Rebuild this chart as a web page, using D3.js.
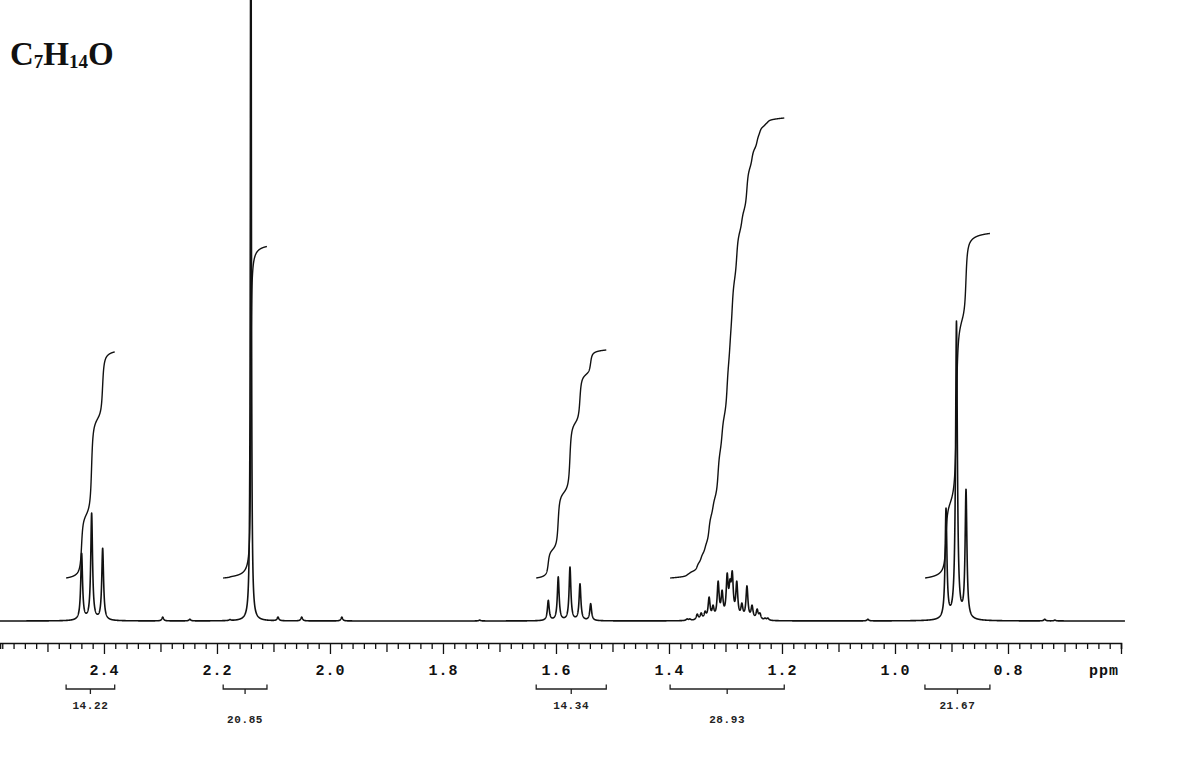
<!DOCTYPE html>
<html><head><meta charset="utf-8">
<script src="https://cdn.jsdelivr.net/npm/d3@7"></script>
<style>html,body{margin:0;padding:0;background:#fff;overflow:hidden}</style>
</head><body>
<svg id="chart" width="1200" height="759"></svg>
<script>
// ---------------- DATA ----------------
const formulaParts = ["C", "7", "H", "14", "O"];
const formulaIsSub = [false, true, false, true, false];

const ppmRange = [2.584, 0.6];             // axis extent (ppm, left -> right)
const tickLabelValues = [2.4, 2.2, 2.0, 1.8, 1.6, 1.4, 1.2, 1.0, 0.8];
const tickLabels = ["2.4", "2.2", "2.0", "1.8", "1.6", "1.4", "1.2", "1.0", "0.8"];
const unitLabel = "ppm";

// multiplet 1: triplet ~2.42
const m1_ppm = [2.4395, 2.4218, 2.4023];
const m1_int = [22.6, 36.0, 24.3];
// multiplet 2: singlet 2.14
const m2_ppm = [2.140];
const m2_int = [300];
// multiplet 3: quintet ~1.58
const m3_ppm = [1.6136, 1.5960, 1.5752, 1.5575, 1.5386];
const m3_int = [6.9, 14.7, 18.0, 12.4, 5.8];
// multiplet 4: broad multiplet ~1.29
const m4_ppm = [1.368, 1.363, 1.350, 1.343, 1.336, 1.329, 1.322, 1.313, 1.306, 1.297,
                1.292, 1.288, 1.280, 1.271, 1.262, 1.253, 1.244, 1.239, 1.230, 1.225];
const m4_int = [0.7, 0.7, 2.3, 2.7, 3.3, 8.0, 5.3, 13.3, 10.3, 16.0,
                14.0, 16.7, 13.3, 6.0, 11.7, 5.3, 4.0, 2.7, 1.0, 1.0];
// multiplet 5: triplet ~0.89
const m5_ppm = [0.9097, 0.8912, 0.8743];
const m5_int = [37.7, 100, 44.0];
// small impurity bumps
const m6_ppm = [2.296, 2.248, 2.177, 2.092, 2.050, 1.979, 1.735, 1.048, 0.735, 0.717];
const m6_int = [1.3, 0.6, 0.5, 1.3, 1.3, 1.3, 0.3, 0.6, 0.6, 0.3];
// half-width at half-height (ppm) of each multiplet's lines
const lineWidths = [0.0019, 0.0009, 0.0019, 0.0021, 0.0019, 0.0018];

// integrals
const integralFrom = [2.467, 2.189, 1.635, 1.398, 0.947];
const integralTo   = [2.381, 2.1115, 1.511, 1.196, 0.832];
const integralValues = [14.22, 20.85, 14.34, 28.93, 21.67];

// ---------------- CHART ----------------
const svg = d3.select("#chart");
const x = d3.scaleLinear().domain(ppmRange).range([0, 1121]);
const y = d3.scaleLinear().domain([0, 207]).range([621, 0]);
const yInt = d3.scaleLinear().domain([0, 30]).range([578, 101]);

const groups = [
  [m1_ppm, m1_int], [m2_ppm, m2_int], [m3_ppm, m3_int],
  [m4_ppm, m4_int], [m5_ppm, m5_int], [m6_ppm, m6_int]
];
const peaks = [];
groups.forEach((g, gi) => g[0].forEach((p, i) => peaks.push({p, obs: g[1][i], w: lineWidths[gi], a: g[1][i]})));

const L = (d, w) => (w * w) / (d * d + w * w);
// adjust amplitudes so that the summed spectrum matches the read heights at each line
for (let it = 0; it < 80; it++) {
  const next = peaks.map((pk, i) => {
    let s = 0;
    peaks.forEach((q, j) => { if (j !== i) s += q.a * L(pk.p - q.p, q.w); });
    return Math.max(0, pk.obs - s);
  });
  peaks.forEach((pk, i) => pk.a = next[i]);
}
const spec = p => { let s = 0; for (const q of peaks) s += q.a * L(p - q.p, q.w); return s; };

const step = 0.0002, pStart = 2.592, pEnd = 0.593;
const n = Math.round((pStart - pEnd) / step);
const data = [];
for (let i = 0; i <= n; i++) { const p = pStart - i * step; data.push([p, spec(p)]); }

svg.append("path").datum(data)
  .attr("fill", "none").attr("stroke", "#111").attr("stroke-width", 1.6)
  .attr("stroke-linejoin", "round")
  .attr("d", d3.line().x(d => x(d[0])).y(d => y(d[1])));

// integral curves
integralValues.forEach((v, k) => {
  const a = integralFrom[k], b = integralTo[k];
  const seg = data.filter(d => d[0] <= a && d[0] >= b);
  let cum = 0; const cs = seg.map(d => { cum += d[1]; return [d[0], cum]; });
  const tot = cum;
  svg.append("path").datum(cs)
    .attr("fill", "none").attr("stroke", "#111").attr("stroke-width", 1.4)
    .attr("d", d3.line().x(d => x(d[0])).y(d => yInt(v * d[1] / tot)));
});

// axis
const ticks = d3.range(0, 100).map(i => +(0.6 + i * 0.02).toFixed(2));
const labelFor = d => { const i = tickLabelValues.findIndex(t => Math.abs(t - d) < 1e-6); return i >= 0 ? tickLabels[i] : ""; };
const tickLen = d => { const c = Math.round(d * 100); return c % 20 === 0 ? 11 : (c % 10 === 0 ? 9 : 6); };
const axis = d3.axisBottom(x).tickValues(ticks).tickSizeOuter(0).tickSize(6).tickFormat(labelFor);
const gA = svg.append("g").attr("transform", "translate(0,643)").call(axis)
  .attr("font-family", "'Liberation Mono', 'Courier New', monospace").attr("font-size", 15).attr("font-weight", "bold");
gA.select(".domain").attr("stroke", "#111").attr("stroke-width", 1.6);
gA.selectAll(".tick line").attr("y2", d => tickLen(d)).attr("stroke", "#111").attr("stroke-width", 1.3);
gA.selectAll(".tick text").attr("y", 32).attr("dy", null).attr("fill", "#111").style("letter-spacing", "1px");
svg.append("text").attr("x", 1119).attr("y", 675).attr("text-anchor", "end")
  .attr("font-family", "'Liberation Mono', 'Courier New', monospace").attr("font-size", 15).attr("font-weight", "bold")
  .attr("fill", "#111").style("letter-spacing", "1px").text(unitLabel);

// integral brackets
integralValues.forEach((v, k) => {
  const x0 = x(integralFrom[k]), x1 = x(integralTo[k]), xm = (x0 + x1) / 2;
  const g = svg.append("g").attr("stroke", "#222").attr("stroke-width", 1.3).attr("fill", "none");
  g.append("path").attr("d", `M${x0},684.5V689H${x1}V684.5M${xm},689V694`);
  svg.append("text").attr("x", xm).attr("y", k % 2 === 0 ? 709 : 723).attr("text-anchor", "middle")
    .attr("font-family", "'Liberation Mono', 'Courier New', monospace").attr("font-size", 11).attr("font-weight", "bold")
    .attr("fill", "#222").style("letter-spacing", "0.6px").text(v.toFixed(2));
});

// title (molecular formula)
const title = svg.append("text").attr("x", 10).attr("y", 65)
  .attr("font-family", "'Liberation Serif', 'Times New Roman', serif").attr("font-weight", "bold").attr("fill", "#111");
let prevSub = false;
formulaParts.forEach((t, i) => {
  const sub = formulaIsSub[i];
  title.append("tspan").attr("font-size", sub ? 19 : 33)
    .attr("dy", sub === prevSub ? 0 : (sub ? 3 : -3)).text(t);
  prevSub = sub;
});
</script>
</body></html>
